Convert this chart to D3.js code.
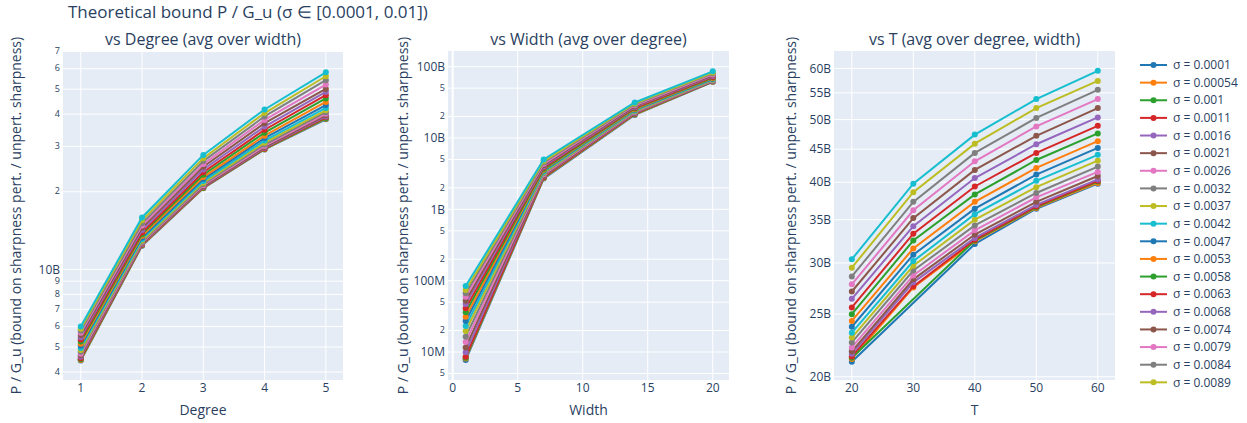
<!DOCTYPE html>
<html><head><meta charset="utf-8">
<script src="https://cdn.jsdelivr.net/npm/d3@7"></script>
<style>body{margin:0;background:#fff;} svg{font-family:"Open Sans", sans-serif;}</style>
</head><body><svg id="c" width="1247" height="423"></svg>
<script>
// ---------------- data ----------------
const sigmaLabels = ["0.0001","0.00054","0.001","0.0011","0.0016","0.0021","0.0026","0.0032","0.0037","0.0042",
  "0.0047","0.0053","0.0058","0.0063","0.0068","0.0074","0.0079","0.0084","0.0089","0.0095"];
const colors = ["#1f77b4","#ff7f0e","#2ca02c","#d62728","#9467bd","#8c564b","#e377c2","#7f7f7f","#bcbd22","#17becf"];

const degrees = [1, 2, 3, 4, 5];
const widths = [1, 7, 14, 20];
const Ts = [20, 30, 40, 50, 60];

// values in billions, one row per sigma
const degreeSeries = [
  [4.43, 12.35, 20.65, 29.2, 38.2],
  [4.45, 12.4, 20.7, 29.25, 38.4],
  [4.48, 12.45, 20.75, 29.35, 38.6],
  [4.52, 12.5, 20.8, 29.45, 38.9],
  [4.58, 12.55, 20.9, 29.6, 39.2],
  [4.64, 12.6, 21.0, 29.8, 39.6],
  [4.71, 12.7, 21.2, 30.1, 40.1],
  [4.79, 12.8, 21.4, 30.5, 40.7],
  [4.87, 12.95, 21.7, 31.0, 41.4],
  [4.96, 13.1, 22.0, 31.6, 42.3],
  [5.06, 13.3, 22.4, 32.3, 43.4],
  [5.15, 13.5, 22.8, 33.0, 44.6],
  [5.25, 13.7, 23.3, 33.9, 46.0],
  [5.35, 13.9, 23.8, 34.8, 47.4],
  [5.46, 14.2, 24.4, 35.8, 48.8],
  [5.56, 14.5, 25.0, 36.9, 50.1],
  [5.68, 14.8, 25.6, 38.0, 52.1],
  [5.78, 15.1, 26.3, 39.2, 54.2],
  [5.88, 15.5, 27.0, 40.4, 56.1],
  [6.00, 15.9, 27.8, 41.7, 58.1]
];
const widthSeries = [
  [0.0077, 2.7, 21.1, 61.5],
  [0.0081, 2.75, 21.4, 61.7],
  [0.0083, 2.8, 21.7, 62.0],
  [0.0086, 2.85, 22.0, 62.3],
  [0.0099, 2.95, 22.3, 62.7],
  [0.0116, 3.0, 22.7, 63.2],
  [0.0138, 3.1, 23.1, 63.8],
  [0.0164, 3.2, 23.5, 64.5],
  [0.0197, 3.3, 23.9, 65.5],
  [0.0231, 3.4, 24.4, 66.5],
  [0.0272, 3.5, 24.9, 67.5],
  [0.0312, 3.6, 25.4, 69.0],
  [0.0360, 3.7, 26.0, 70.5],
  [0.0409, 3.85, 26.6, 72.0],
  [0.0471, 4.0, 27.3, 74.0],
  [0.0524, 4.15, 28.0, 76.0],
  [0.0596, 4.35, 28.8, 78.0],
  [0.0665, 4.55, 29.6, 80.5],
  [0.0740, 4.75, 30.5, 83.0],
  [0.0841, 5.0, 31.5, 86.0]
];
const tSeries = [
  [21.1, null, 32.1, 36.4, 39.8],
  [21.3, 27.5, 32.4, 36.5, 39.9],
  [21.4, null, 32.5, 36.6, 40.1],
  [21.5, 27.6, 32.6, 36.7, 40.2],
  [21.7, 28.0, 32.8, 36.9, 40.4],
  [21.9, 28.3, 33.2, 37.3, 40.9],
  [22.2, 28.7, 33.7, 37.9, 41.5],
  [22.6, 29.2, 34.3, 38.5, 42.3],
  [23.0, 29.7, 35.0, 39.3, 43.2],
  [23.4, 30.2, 35.7, 40.2, 44.1],
  [23.9, 30.9, 36.4, 41.1, 45.2],
  [24.4, 31.6, 37.3, 42.1, 46.3],
  [25.0, 32.5, 38.3, 43.3, 47.6],
  [25.6, 33.3, 39.4, 44.4, 48.9],
  [26.4, 34.2, 40.6, 45.8, 50.4],
  [27.1, 35.2, 41.8, 47.2, 52.1],
  [27.8, 36.2, 43.1, 48.8, 53.8],
  [28.6, 37.3, 44.4, 50.3, 55.6],
  [29.5, 38.6, 45.9, 52.1, 57.4],
  [30.4, 39.8, 47.4, 53.8, 59.5]
];

const degreeYTicks = [4,5,6,7,8,9,10,20,30,40,50,60,70];
const degreeYLabels = ["4","5","6","7","8","9","10B","2","3","4","5","6","7"];
const widthYTicks = [0.005,0.01,0.02,0.05,0.1,0.2,0.5,1,2,5,10,20,50,100];
const widthYLabels = ["5","10M","2","5","100M","2","5","1B","2","5","10B","2","5","100B"];
const tYTicks = [20,25,30,35,40,45,50,55,60];
const tYLabels = ["20B","25B","30B","35B","40B","45B","50B","55B","60B"];

const degreeXTicks = [1,2,3,4,5];
const widthXTicks = [0,5,10,15,20];
const tXTicks = [20,30,40,50,60];

const titleText = "Theoretical bound P / G_u (σ ∈ [0.0001, 0.01])";
const yTitle = "P / G_u (bound on sharpness pert. / unpert. sharpness)";

// ---------------- drawing ----------------
const svg = d3.select("#c");
const textColor = "#2a3f5f";
const Y0 = 51, Y1 = 380;

const panels = [
  {xs: degrees, series: degreeSeries, px: [63, 343], xDom: [0.71, 5.28], yDom: [3.724, 70.3],
   xTicks: degreeXTicks, yTicks: degreeYTicks, yLabels: degreeYLabels,
   title: "vs Degree (avg over width)", xTitle: "Degree", yTitleX: 16.5},
  {xs: widths, series: widthSeries, px: [448, 729], xDom: [-0.36, 21.25], yDom: [0.00405, 166],
   xTicks: widthXTicks, yTicks: widthYTicks, yLabels: widthYLabels,
   title: "vs Width (avg over degree)", xTitle: "Width", yTitleX: 403},
  {xs: Ts, series: tSeries, px: [834, 1115], xDom: [17.1, 62.8], yDom: [19.77, 63.85],
   xTicks: tXTicks, yTicks: tYTicks, yLabels: tYLabels,
   title: "vs T (avg over degree, width)", xTitle: "T", yTitleX: 791.5}
];

svg.append("text").attr("x", 68).attr("y", 17.5).attr("font-size", 17).attr("fill", textColor).text(titleText);

panels.forEach((p, pi) => {
  const x = d3.scaleLinear().domain(p.xDom).range(p.px);
  const y = d3.scaleLog().domain(p.yDom).range([Y1, Y0]);
  const g = svg.append("g");
  g.append("rect").attr("x", p.px[0]).attr("y", Y0).attr("width", p.px[1]-p.px[0]).attr("height", Y1-Y0).attr("fill", "#E5ECF6");
  p.xTicks.forEach(t => {
    g.append("line").attr("x1", x(t)).attr("x2", x(t)).attr("y1", Y0).attr("y2", Y1)
      .attr("stroke", "#fff").attr("stroke-width", t === 0 ? 2 : 1);
    g.append("text").attr("x", x(t)).attr("y", 392).attr("text-anchor", "middle")
      .attr("font-size", 12).attr("fill", textColor).text(t);
  });
  p.yTicks.forEach((t, i) => {
    g.append("line").attr("x1", p.px[0]).attr("x2", p.px[1]).attr("y1", y(t)).attr("y2", y(t))
      .attr("stroke", "#fff").attr("stroke-width", 1);
    const lab = p.yLabels[i];
    const small = lab.length === 1;
    g.append("text").attr("x", p.px[0] - 3).attr("y", y(t)).attr("dy", small ? "0.3em" : "0.35em")
      .attr("text-anchor", "end").attr("font-size", small ? 9 : 12).attr("fill", textColor).text(lab);
  });
  const cx = (p.px[0] + p.px[1]) / 2;
  g.append("text").attr("x", cx).attr("y", 45).attr("text-anchor", "middle").attr("font-size", 16)
    .attr("fill", textColor).text(p.title);
  g.append("text").attr("x", cx).attr("y", 415).attr("text-anchor", "middle").attr("font-size", 14)
    .attr("fill", textColor).text(p.xTitle);
  g.append("text").attr("transform", `translate(${p.yTitleX},${(Y0+Y1)/2}) rotate(-90)`)
    .attr("dy", "0.35em").attr("text-anchor", "middle").attr("font-size", 14)
    .attr("fill", textColor).text(yTitle);
  const line = d3.line().x(d => x(d[0])).y(d => y(d[1]));
  p.series.forEach((vals, si) => {
    const pts = p.xs.map((xv, k) => [xv, vals[k]]).filter(d => d[1] != null);
    const c = colors[si % 10];
    g.append("path").attr("d", line(pts)).attr("fill", "none").attr("stroke", c).attr("stroke-width", 2);
    g.selectAll(null).data(pts).enter().append("circle")
      .attr("cx", d => x(d[0])).attr("cy", d => y(d[1])).attr("r", 3).attr("fill", c);
  });
});

// legend
svg.append("clipPath").attr("id", "legclip").append("rect").attr("x", 1130).attr("y", 50).attr("width", 117).attr("height", 340);
const leg = svg.append("g").attr("clip-path", "url(#legclip)");
sigmaLabels.forEach((s, i) => {
  const yy = 65 + i * 17.63;
  const c = colors[i % 10];
  leg.append("line").attr("x1", 1140).attr("x2", 1167).attr("y1", yy).attr("y2", yy).attr("stroke", c).attr("stroke-width", 2);
  leg.append("circle").attr("cx", 1153.5).attr("cy", yy).attr("r", 3).attr("fill", c);
  leg.append("text").attr("x", 1173).attr("y", yy).attr("dy", "0.35em").attr("font-size", 12)
    .attr("fill", textColor).text("σ = " + s);
});
</script></body></html>
